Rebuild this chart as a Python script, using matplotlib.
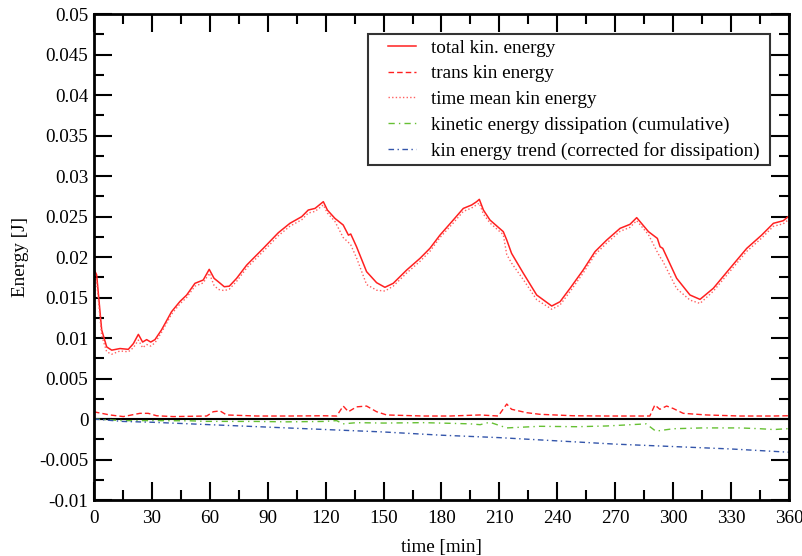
import matplotlib
matplotlib.use("Agg")
import matplotlib.pyplot as plt
from matplotlib.patches import Rectangle
from matplotlib.ticker import MultipleLocator

plt.rcParams['font.family'] = ['Liberation Serif', 'DejaVu Serif']

# total kinetic energy
t_total = [0, 1.4, 4, 6.6, 9.2, 13.5, 17.8, 20.4, 23, 25.2, 27.3, 29.4, 31.6, 35,
           40.2, 44.5, 48, 52.3, 56.6, 59.7, 62.2, 64.4, 67.5, 70.1, 73.9, 79.1,
           83.4, 87.7, 95.5, 101.5, 107.6, 111, 114.5, 118.8, 120.9, 124.8, 129.1,
           131.8, 133, 136, 141.2, 146.4, 150.7, 155, 162, 168.9, 174, 179.2,
           186.1, 191.3, 195.6, 198.2, 199.6, 201.7, 205.1, 212, 213.8, 216.3,
           222.4, 229.3, 237.1, 241.4, 246.6, 253.4, 259.5, 265.6, 272.5, 277.6,
           281.1, 287.2, 291.8, 293.2, 294.6, 301.8, 308.7, 313.9, 320.8, 329.4,
           338.1, 345.8, 351.9, 357, 360]
total = [0.0185, 0.0178, 0.0110, 0.0089, 0.0085, 0.0087, 0.0086, 0.0093, 0.01045,
         0.0095, 0.0098, 0.0095, 0.0098, 0.0110, 0.01325, 0.0145, 0.0153, 0.01675,
         0.01716, 0.01848, 0.01737, 0.01695, 0.01633, 0.0164, 0.01737, 0.0190,
         0.02004, 0.02107, 0.0230, 0.02416, 0.02498, 0.0258, 0.0260, 0.02683,
         0.0258, 0.02477, 0.02395, 0.0227, 0.02284, 0.02127, 0.01819, 0.01683,
         0.01626, 0.01675, 0.0184, 0.01984, 0.02107, 0.0227, 0.02457, 0.0260,
         0.02642, 0.02683, 0.02712, 0.0258, 0.02457, 0.02313, 0.0221, 0.02045,
         0.01799, 0.01531, 0.01395, 0.01448, 0.01614, 0.0184, 0.02066, 0.0221,
         0.02354, 0.02403, 0.02486, 0.02313, 0.0223, 0.02127, 0.02107, 0.01737,
         0.01531, 0.01477, 0.01614, 0.0186, 0.02107, 0.0227, 0.02416, 0.02448,
         0.02506]

# time mean kinetic energy, at the same times
mean = [0.0177, 0.0170, 0.0103, 0.0083, 0.0080, 0.0084, 0.0083, 0.0088, 0.00975,
        0.0088, 0.0092, 0.0090, 0.0094, 0.0107, 0.01295, 0.0142, 0.0150, 0.01640,
        0.01680, 0.01800, 0.01650, 0.01600, 0.01585, 0.01603, 0.01700, 0.01865,
        0.01968, 0.02070, 0.02263, 0.02380, 0.02460, 0.02543, 0.02563, 0.02643,
        0.02543, 0.02440, 0.02240, 0.02180, 0.02150, 0.01990, 0.01660, 0.01590,
        0.01580, 0.01640, 0.01803, 0.01947, 0.02070, 0.02240, 0.02420, 0.02563,
        0.02605, 0.02645, 0.02665, 0.02530, 0.02420, 0.02276, 0.02030, 0.01925,
        0.01720, 0.01473, 0.01355, 0.01408, 0.01574, 0.01803, 0.02029, 0.02173,
        0.02317, 0.02366, 0.02449, 0.02276, 0.02060, 0.02000, 0.01950, 0.01610,
        0.01468, 0.01427, 0.01578, 0.01823, 0.02070, 0.02233, 0.02379, 0.02410,
        0.02466]

# transient kinetic energy
t_trans = [0, 1.4, 8.3, 15.2, 23.8, 28.1, 32.5, 41, 58.4, 61.8, 65.3, 68.7, 84.3,
           101.5, 118.8, 125.7, 129.1, 131.8, 136, 141.2, 146.4, 151.6, 170.6,
           184.4, 199.9, 209.4, 213.8, 216.3, 224.1, 231, 248.3, 265.6, 287.9,
           290.5, 293.1, 296.6, 300, 305.2, 317.3, 334.6, 351.9, 358.8, 360]
trans = [0.0009, 0.00082, 0.0005, 0.0003, 0.0007, 0.0007, 0.0004, 0.0003, 0.00037,
         0.0009, 0.0010, 0.0005, 0.00037, 0.00037, 0.0004, 0.00037, 0.0016, 0.0009,
         0.0015, 0.0016, 0.0009, 0.0005, 0.00037, 0.00037, 0.0005, 0.00037,
         0.00185, 0.0012, 0.00078, 0.00058, 0.0004, 0.00037, 0.00037, 0.00173,
         0.0012, 0.0016, 0.0013, 0.0007, 0.0005, 0.00037, 0.00037, 0.0004, 0.0004]

# cumulative dissipation
t_diss = [0, 15.2, 32.5, 49.7, 58, 84, 100, 118.8, 125.7, 129, 136, 150, 170.6,
          184.4, 195, 200, 205, 213.8, 231, 250, 265.6, 286, 291, 300, 315,
          334.6, 345, 352, 358.8, 360]
diss = [0, -0.0002, -0.0002, -0.00022, -0.00029, -0.0003, -0.00035, -0.0003,
        -0.0002, -0.0006, -0.00045, -0.0005, -0.00045, -0.00053, -0.0006, -0.0007,
        -0.0004, -0.0011, -0.0009, -0.00095, -0.00086, -0.0006, -0.0015, -0.0012,
        -0.0011, -0.0011, -0.0012, -0.0013, -0.0012, -0.0012]

# kin energy trend (corrected for dissipation)
t_trend = [0, 15, 30, 60, 90, 120, 150, 180, 210, 240, 270, 300, 330, 360]
trend = [0, -0.0003, -0.0004, -0.0007, -0.0010, -0.0013, -0.0016, -0.0020,
         -0.0023, -0.0027, -0.0031, -0.0034, -0.0037, -0.0041]

ytick_vals = [i * 0.005 for i in range(-2, 11)]
ytick_labels = ['-0.01', '-0.005', '0', '0.005', '0.01', '0.015', '0.02',
                '0.025', '0.03', '0.035', '0.04', '0.045', '0.05']

fig = plt.figure(figsize=(8.03, 5.56), dpi=100)
ax = fig.add_axes([0.117, 0.1007, 0.8656, 0.8741])

ax.axhline(0, color='black', lw=1.5, zorder=1)
ax.plot(t_total, total, color='#ff2020', lw=1.1, label='total kin. energy')
ax.plot(t_trans, trans, color='#ff2020', lw=1.0, ls=(0, (4, 2.2)), label='trans kin energy')
ax.plot(t_total, mean, color='#ff6060', lw=1.0, ls=(0, (1, 1.6)), label='time mean kin energy')
ax.plot(t_diss, diss, color='#66c033', lw=1.0, ls=(0, (4.5, 3, 1, 3)),
        label='kinetic energy dissipation (cumulative)')
ax.plot(t_trend, trend, color='#3355aa', lw=1.0, ls=(0, (4, 2.5, 1, 2.5)),
        label='kin energy trend (corrected for dissipation)')

ax.set_xlim(0, 360)
ax.set_ylim(-0.01, 0.05)
ax.xaxis.set_major_locator(MultipleLocator(30))
ax.xaxis.set_minor_locator(MultipleLocator(15))
ax.set_yticks(ytick_vals)
ax.set_yticklabels(ytick_labels)
ax.yaxis.set_minor_locator(MultipleLocator(0.0025))
ax.tick_params(which='both', direction='in', top=True, right=True, labelsize=13.8, width=1.5)
ax.tick_params(which='major', length=13)
ax.tick_params(which='minor', length=7)
ax.tick_params(axis='x', pad=7)
ax.tick_params(axis='y', pad=4)
for s in ax.spines.values():
    s.set_linewidth(2)

ax.set_xlabel('time [min]', fontsize=13.8, labelpad=9)
ax.set_ylabel('Energy [J]', fontsize=13.8, labelpad=7)

# legend without its own frame; the box is drawn round it with a wider left margin
leg = ax.legend(loc='upper right', bbox_to_anchor=(0.958, 0.948), borderaxespad=0,
                fontsize=13.8, frameon=False, handlelength=1.45,
                borderpad=0.0, labelspacing=0.43, handletextpad=0.8)
leg.set_zorder(6)
fig.canvas.draw()
bb = leg.get_window_extent()
inv = ax.transAxes.inverted()
(x0, y0) = inv.transform((bb.x0 - 20, bb.y0 - 5))
(x1, y1) = inv.transform((bb.x1 + 10, bb.y1 + 5))
box = Rectangle((x0, y0), x1 - x0, y1 - y0, transform=ax.transAxes,
                facecolor='white', edgecolor='#333333', lw=1.5, zorder=5)
ax.add_patch(box)

fig.savefig('out.png', dpi=100)
